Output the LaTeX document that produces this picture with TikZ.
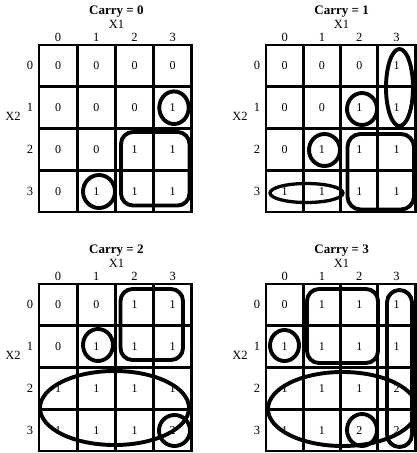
\documentclass[tikz,border=0pt]{standalone}
\usepackage{fontspec}
\setmainfont{Liberation Serif}
\newcommand\kmapdraw[7]{%
  \begin{scope}[shift={(#2,#3)}]
    \foreach \k in {0,...,4} {
      \draw[gridline] ({\k*#4},0) -- ({\k*#4},{4*#5});
      \draw[gridline] (0,{\k*#5}) -- ({4*#4},{\k*#5});
    }
    \foreach \v [count=\i from 0] in {#7} {
      \pgfmathtruncatemacro\rr{int(\i/4)}
      \pgfmathtruncatemacro\cc{mod(\i,4)}
      \node[cellnum] (#1-\rr-\cc) at ({(\cc+0.5)*#4},{(\rr+0.5)*#5}) {\v};
    }
    \foreach \c in {0,...,3} {
      \node[lab] (#1-col\c) at ({(\c+0.5)*#4},-8) {\c};
      \node[lab] (#1-row\c) at (-9,{(\c+0.5)*#5}) {\c};
    }
    \node[lab] (#1-xone) at ({2*#4+1},-20.5) {X1};
    \node[lab] (#1-xtwo) at (-26,{1.5*#5+9}) {X2};
    \node[ttl] (#1-title) at ({2*#4+1},-33) {#6};
  \end{scope}}
\begin{document}
\begin{tikzpicture}[x=1pt,y=-1pt,
  gridline/.style={line width=2.9pt, line cap=rect},
  grp/.style={line width=3.9pt},
  thingrp/.style={line width=3.3pt},
  cellnum/.style={font=\fontsize{12}{13}\selectfont, inner sep=0pt},
  lab/.style={font=\fontsize{12.5}{13}\selectfont, inner sep=0pt},
  ttl/.style={font=\fontsize{13}{14}\selectfont\bfseries, inner sep=0pt}]
\useasboundingbox (0,0) rectangle (417,453);

\kmapdraw{ma}{39}{45}{38.2}{41.75}{Carry = 0}{0,0,0,0, 0,0,0,1, 0,0,1,1, 0,1,1,1}
\kmapdraw{mb}{266}{45}{37.3}{41.75}{Carry = 1}{0,0,0,1, 0,0,1,1, 0,1,1,1, 1,1,1,1}
\kmapdraw{mc}{39}{284}{38.2}{41.75}{Carry = 2}{0,0,1,1, 0,1,1,1, 1,1,1,1, 1,1,1,2}
\kmapdraw{md}{266}{284}{37.3}{41.75}{Carry = 3}{0,1,1,1, 1,1,1,1, 1,1,1,2, 1,1,2,2}

% map Carry = 0
\draw[grp] (174,107.7) ellipse [x radius=14.7pt, y radius=16.3pt];
\draw[grp, rounded corners=12pt] (121,132) rectangle (189.5,205.5);
\draw[grp] (99,191.5) ellipse [x radius=16pt, y radius=16.5pt];

% map Carry = 1
\draw[grp] (399.5,87.5) ellipse [x radius=13.5pt, y radius=38.5pt];
\draw[grp] (362,109) ellipse [x radius=15pt, y radius=16pt];
\draw[grp] (324.5,150) ellipse [x radius=15.5pt, y radius=16pt];
\draw[thingrp] (306.5,193) ellipse [x radius=36.5pt, y radius=9.5pt];
\draw[grp, rounded corners=13pt] (347.5,134) rectangle (414,209.5);

% map Carry = 2
\draw[grp, rounded corners=12pt] (120.5,289) rectangle (183,360);
\draw[grp] (98,345) ellipse [x radius=15pt, y radius=16pt];
\draw[grp] (114.5,408) ellipse [x radius=74.5pt, y radius=37pt];
\draw[grp] (174.5,430.5) ellipse [x radius=15.5pt, y radius=15.5pt];

% map Carry = 3
\draw[grp, rounded corners=12pt] (307,289) rectangle (378,363);
\draw[grp, rounded corners=12.5pt] (387,290) rectangle (412,447);
\draw[grp] (284.5,345.5) ellipse [x radius=14.5pt, y radius=15.5pt];
\draw[grp] (342.5,409) ellipse [x radius=74.5pt, y radius=37pt];
\draw[grp] (362,430) ellipse [x radius=15pt, y radius=16pt];
\end{tikzpicture}
\end{document}
